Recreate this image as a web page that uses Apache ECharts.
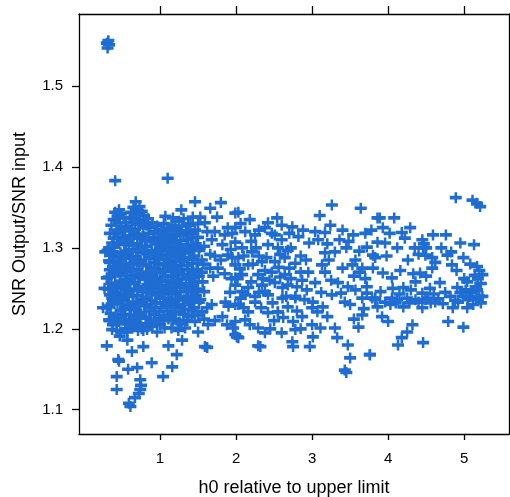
<!DOCTYPE html>
<html>
<head>
<meta charset="utf-8">
<script src="https://cdn.jsdelivr.net/npm/echarts@6/dist/echarts.min.js"></script>
<style>
html,body{margin:0;padding:0;background:#fff;}
#chart{width:510px;height:497px;}
</style>
</head>
<body>
<div id="chart"></div>
<script>
// ---- data (x: h0 relative to upper limit, y: SNR Output/SNR input) ----
const xTicks = [1, 2, 3, 4, 5];
const yTicks = [1.1, 1.2, 1.3, 1.4, 1.5];

const outliers = [
  [0.30,1.553],[0.33,1.551],[0.31,1.547],[0.32,1.556],
  [0.41,1.383],[1.10,1.386]
];

const blob = [
  [0.25,1.226],[0.27,1.250],[0.28,1.295],
  [0.31,1.297],[0.33,1.284],[0.30,1.263],[0.32,1.249],[0.30,1.226],[0.33,1.211],[0.34,1.273],
  [0.36,1.328],[0.37,1.306],[0.35,1.291],[0.38,1.277],[0.36,1.256],[0.37,1.238],[0.35,1.219],[0.38,1.205],
  [0.41,1.344],[0.42,1.318],[0.40,1.301],[0.43,1.283],[0.41,1.266],[0.42,1.245],[0.40,1.231],[0.43,1.207],
  [0.46,1.347],[0.47,1.331],[0.45,1.313],[0.48,1.294],[0.46,1.278],[0.47,1.259],[0.45,1.241],[0.48,1.223],[0.46,1.209],[0.47,1.191],
  [0.52,1.337],[0.51,1.321],[0.53,1.304],[0.52,1.287],[0.50,1.270],[0.53,1.252],[0.51,1.235],[0.52,1.218],[0.54,1.200],
  [0.57,1.326],[0.58,1.309],[0.56,1.292],[0.59,1.275],[0.57,1.261],[0.58,1.244],[0.56,1.229],[0.59,1.211],[0.57,1.196],
  [0.62,1.344],[0.63,1.331],[0.61,1.315],[0.64,1.298],[0.62,1.281],[0.63,1.266],[0.61,1.249],[0.64,1.233],[0.62,1.217],[0.63,1.202],
  [0.68,1.357],[0.69,1.341],[0.67,1.323],[0.70,1.305],[0.68,1.289],[0.69,1.273],[0.67,1.257],[0.70,1.241],[0.68,1.224],[0.69,1.208],
  [0.73,1.351],[0.74,1.334],[0.72,1.317],[0.75,1.301],[0.73,1.285],[0.74,1.269],[0.72,1.252],[0.75,1.236],[0.73,1.220],[0.74,1.204],
  [0.79,1.340],[0.78,1.325],[0.80,1.309],[0.79,1.294],[0.77,1.279],[0.80,1.261],[0.78,1.246],[0.79,1.229],[0.81,1.214],[0.78,1.198],
  [0.84,1.336],[0.85,1.318],[0.83,1.302],[0.86,1.287],[0.84,1.270],[0.85,1.254],[0.83,1.239],[0.86,1.222],[0.84,1.206],
  [0.90,1.331],[0.91,1.313],[0.89,1.297],[0.92,1.282],[0.90,1.266],[0.91,1.250],[0.89,1.235],[0.92,1.218],[0.90,1.203],
  [0.96,1.327],[0.97,1.309],[0.95,1.294],[0.98,1.279],[0.96,1.262],[0.97,1.245],[0.95,1.231],[0.98,1.213],
  [1.02,1.322],[1.03,1.305],[1.01,1.291],[1.04,1.273],[1.02,1.258],[1.03,1.243],[1.01,1.226],[1.04,1.210],
  [1.07,1.339],[1.08,1.317],[1.06,1.302],[1.09,1.286],[1.07,1.271],[1.08,1.253],[1.06,1.238],[1.09,1.222],
  [1.13,1.312],[1.14,1.296],[1.12,1.279],[1.15,1.265],[1.13,1.248],[1.14,1.232],[1.12,1.216],[1.15,1.201],
  [1.17,1.337],[1.18,1.321],[1.16,1.306],[1.19,1.289],[1.17,1.274],[1.18,1.257],[1.16,1.243],[1.19,1.226],[1.17,1.210],
  [1.22,1.316],[1.23,1.300],[1.21,1.284],[1.24,1.268],[1.22,1.252],[1.23,1.236],[1.21,1.221],[1.24,1.198],
  [1.28,1.347],[1.29,1.327],[1.27,1.309],[1.30,1.294],[1.28,1.278],[1.29,1.262],[1.27,1.246],[1.30,1.230],[1.28,1.206],
  [1.34,1.321],[1.35,1.304],[1.33,1.288],[1.36,1.273],[1.34,1.256],[1.35,1.240],[1.33,1.224],[1.36,1.210],
  [1.40,1.330],[1.41,1.313],[1.39,1.298],[1.42,1.281],[1.40,1.266],[1.41,1.250],[1.39,1.234],[1.42,1.217],
  [1.46,1.357],[1.46,1.322],[1.47,1.305],[1.45,1.290],[1.48,1.273],[1.46,1.258],[1.47,1.241],[1.45,1.226]
];

const blob2 = [
  [0.34,1.318],[0.33,1.300],[0.34,1.282],[0.33,1.264],[0.34,1.242],[0.33,1.228],[0.34,1.210],
  [0.39,1.335],[0.39,1.312],[0.38,1.295],[0.39,1.270],[0.39,1.252],[0.38,1.234],[0.39,1.214],
  [0.44,1.339],[0.44,1.322],[0.43,1.305],[0.44,1.288],[0.44,1.270],[0.43,1.250],[0.44,1.232],[0.44,1.215],[0.43,1.198],
  [0.49,1.342],[0.49,1.326],[0.50,1.309],[0.49,1.290],[0.48,1.274],[0.49,1.256],[0.50,1.238],[0.49,1.214],[0.49,1.196],
  [0.55,1.331],[0.54,1.313],[0.55,1.296],[0.55,1.279],[0.54,1.266],[0.55,1.248],[0.54,1.226],[0.55,1.206],
  [0.60,1.337],[0.60,1.322],[0.59,1.305],[0.60,1.288],[0.61,1.273],[0.60,1.257],[0.59,1.240],[0.60,1.224],[0.61,1.208],
  [0.65,1.350],[0.65,1.336],[0.66,1.319],[0.65,1.303],[0.64,1.288],[0.65,1.273],[0.66,1.256],[0.65,1.241],[0.66,1.225],[0.65,1.210],
  [0.71,1.346],[0.71,1.329],[0.70,1.312],[0.71,1.296],[0.72,1.280],[0.71,1.263],[0.70,1.247],[0.71,1.231],[0.72,1.214],[0.71,1.198],
  [0.76,1.345],[0.76,1.330],[0.77,1.314],[0.76,1.297],[0.75,1.283],[0.76,1.266],[0.77,1.250],[0.76,1.233],[0.75,1.218],[0.76,1.200],
  [0.82,1.328],[0.82,1.311],[0.81,1.295],[0.82,1.278],[0.83,1.262],[0.82,1.246],[0.81,1.230],[0.82,1.213],[0.83,1.199],
  [0.87,1.325],[0.88,1.308],[0.87,1.291],[0.88,1.275],[0.87,1.258],[0.88,1.243],[0.87,1.226],[0.88,1.210],
  [0.93,1.320],[0.94,1.305],[0.93,1.290],[0.94,1.274],[0.93,1.257],[0.94,1.242],[0.93,1.226],[0.94,1.209],
  [0.99,1.318],[1.00,1.301],[0.99,1.286],[1.00,1.270],[0.99,1.253],[1.00,1.238],[0.99,1.221],[1.00,1.205],
  [1.05,1.330],[1.05,1.313],[1.04,1.297],[1.05,1.281],[1.06,1.265],[1.05,1.249],[1.04,1.232],[1.05,1.216],[1.06,1.201],
  [1.10,1.324],[1.11,1.308],[1.10,1.292],[1.11,1.276],[1.10,1.260],[1.11,1.244],[1.10,1.228],[1.11,1.212],
  [1.15,1.328],[1.15,1.314],[1.14,1.298],[1.15,1.282],[1.16,1.266],[1.15,1.250],[1.14,1.234],[1.15,1.218],
  [1.20,1.324],[1.20,1.308],[1.21,1.292],[1.20,1.276],[1.19,1.260],[1.20,1.244],[1.21,1.228],[1.20,1.212],
  [1.25,1.333],[1.26,1.318],[1.25,1.302],[1.26,1.286],[1.25,1.270],[1.26,1.254],[1.25,1.238],[1.26,1.222],[1.25,1.208],
  [1.31,1.336],[1.31,1.315],[1.32,1.298],[1.31,1.283],[1.32,1.267],[1.31,1.251],[1.32,1.236],[1.31,1.218],
  [1.37,1.328],[1.37,1.310],[1.38,1.294],[1.37,1.278],[1.38,1.262],[1.37,1.246],[1.38,1.230],[1.37,1.215],
  [1.43,1.338],[1.43,1.318],[1.44,1.302],[1.43,1.286],[1.44,1.270],[1.43,1.254],[1.44,1.238],[1.43,1.222],
  [1.50,1.330],[1.50,1.313],[1.51,1.297],[1.50,1.281],[1.51,1.265],[1.50,1.249],[1.51,1.233],[1.50,1.217]
];

const lowLeft = [
  [0.30,1.179],[0.45,1.162],[0.46,1.160],[0.43,1.141],[0.43,1.125],[0.61,1.104],[0.59,1.108],
  [0.70,1.152],[0.74,1.125],[0.75,1.130],[0.72,1.120],[0.89,1.158],[1.04,1.141],[1.16,1.153],
  [1.22,1.168],[1.11,1.179],[0.63,1.172],[0.78,1.178],[0.57,1.186],[0.37,1.199],[0.96,1.196],
  [0.74,1.137],[0.67,1.115],[0.58,1.150],[1.29,1.186],[1.33,1.201]
];

const midLeft = [
  [1.66,1.349],[1.80,1.356],[1.99,1.343],[1.59,1.331],[1.72,1.320],[1.89,1.325],[1.99,1.307],
  [1.82,1.304],[1.68,1.310],[1.89,1.291],[1.99,1.279],[1.76,1.275],[1.55,1.270],[1.42,1.263],
  [1.99,1.263],[1.86,1.233],[1.99,1.230],[1.68,1.230],[1.55,1.221],[1.46,1.209],[1.82,1.215],
  [1.96,1.201],[1.99,1.193],[1.63,1.205],[1.59,1.178],[1.62,1.177],[1.42,1.246],[1.58,1.246],
  [1.55,1.285],[1.52,1.300],[1.56,1.258],[1.72,1.290],[1.92,1.245],[1.70,1.265],
  [1.53,1.338],[1.62,1.320],[1.75,1.338],[1.85,1.316],[1.95,1.318],[1.58,1.302],[1.66,1.292],
  [1.80,1.285],[1.93,1.298],[1.57,1.280],[1.66,1.275],[1.85,1.268],[1.95,1.288],[1.94,1.262],
  [1.53,1.236],[1.62,1.226],[1.90,1.228],[1.58,1.212],[1.72,1.210],[1.88,1.205],[1.50,1.196]
];

const midBand = [
  [2.03,1.344],[1.99,1.325],[2.12,1.320],[2.25,1.316],[2.38,1.325],[2.42,1.331],[2.54,1.337],
  [2.51,1.316],[2.74,1.326],[2.82,1.314],[3.04,1.320],[3.08,1.310],[3.17,1.319],[3.24,1.328],
  [2.08,1.300],[2.21,1.295],[2.03,1.288],[2.42,1.304],[2.55,1.300],[2.68,1.297],[2.64,1.288],
  [2.34,1.283],[2.51,1.283],[2.16,1.279],[2.78,1.281],[2.08,1.267],[2.29,1.267],[2.47,1.270],
  [2.64,1.267],[2.95,1.270],[3.13,1.279],[3.17,1.270],[1.99,1.254],[2.16,1.251],[2.34,1.254],
  [2.51,1.257],[2.68,1.254],[2.87,1.260],[2.12,1.242],[2.25,1.240],[2.42,1.242],[2.61,1.238],
  [2.78,1.240],[2.03,1.230],[2.16,1.221],[2.42,1.220],[2.55,1.221],[2.68,1.227],[1.99,1.209],
  [2.12,1.211],[2.29,1.201],[2.38,1.195],[2.03,1.189],[2.01,1.190],[2.32,1.178],[2.29,1.179],
  [2.75,1.209],[2.78,1.199],[2.74,1.184],[2.75,1.178],[2.97,1.178],[3.01,1.190],[3.11,1.201],
  [2.87,1.215],[2.25,1.233],[2.08,1.246],[2.38,1.246],[2.61,1.251],[2.78,1.238],[2.55,1.221],
  [2.30,1.290],[2.20,1.308],[2.60,1.310],[2.35,1.262],[2.70,1.275],
  [2.06,1.330],[2.18,1.335],[2.30,1.322],[2.47,1.318],[2.60,1.328],[2.70,1.318],[2.88,1.322],[2.96,1.306],
  [2.10,1.290],[2.26,1.300],[2.40,1.288],[2.58,1.292],[2.72,1.300],[2.85,1.290],[2.92,1.285],
  [2.05,1.274],[2.22,1.280],[2.38,1.272],[2.56,1.276],[2.72,1.262],[2.85,1.270],
  [2.02,1.262],[2.20,1.258],[2.44,1.260],[2.58,1.264],[2.80,1.252],
  [2.06,1.238],[2.30,1.245],[2.48,1.232],[2.66,1.240],[2.90,1.236],
  [2.10,1.226],[2.33,1.226],[2.50,1.210],[2.62,1.214],[2.80,1.222],
  [2.18,1.205],[2.45,1.200],[2.60,1.195],[2.85,1.200]
];

const midRight = [
  [3.26,1.353],[3.64,1.349],[3.54,1.316],[3.86,1.337],[3.72,1.301],[3.30,1.295],[3.17,1.294],
  [3.57,1.285],[3.53,1.279],[3.66,1.275],[3.63,1.270],[3.83,1.288],[3.34,1.257],[3.47,1.252],
  [3.57,1.248],[3.72,1.252],[3.72,1.244],[3.04,1.257],[2.93,1.248],[3.01,1.233],[3.14,1.227],
  [3.26,1.242],[3.43,1.233],[3.79,1.238],[3.83,1.238],[3.66,1.217],[3.61,1.202],[3.30,1.201],
  [3.33,1.189],[3.47,1.180],[3.50,1.164],[3.43,1.149],[3.45,1.146],[3.76,1.168],[3.00,1.226],
  [3.07,1.221],[3.00,1.205],[3.36,1.310],[3.45,1.300],[3.20,1.305],
  [3.10,1.340],[3.40,1.322],[3.48,1.308],[3.62,1.296],[3.70,1.318],[3.78,1.322],
  [3.22,1.285],[3.40,1.275],[3.70,1.262],[3.25,1.260],[3.55,1.265],
  [3.12,1.245],[3.38,1.244],[3.50,1.230],[3.66,1.238],[3.55,1.212],[3.20,1.215],[3.68,1.225]
];

const rightSide = [
  [4.89,1.362],[5.11,1.359],[5.17,1.355],[5.21,1.351],[3.89,1.337],[4.08,1.337],[3.93,1.325],
  [3.96,1.306],[3.86,1.307],[4.18,1.319],[4.29,1.325],[4.59,1.316],[4.76,1.316],[4.95,1.306],
  [5.13,1.304],[4.46,1.300],[4.49,1.291],[4.58,1.288],[4.78,1.291],[4.99,1.288],[4.84,1.279],
  [5.17,1.277],[5.24,1.267],[4.58,1.275],[4.42,1.269],[3.80,1.291],[3.80,1.275],[3.93,1.269],
  [4.05,1.263],[4.16,1.272],[4.68,1.257],[4.36,1.258],[4.20,1.251],[4.91,1.251],[5.04,1.258],
  [5.17,1.248],[5.24,1.240],[5.08,1.240],[4.92,1.233],[4.82,1.240],[4.62,1.233],[4.49,1.236],
  [4.36,1.236],[4.25,1.238],[4.12,1.236],[3.96,1.233],[3.83,1.236],[3.86,1.227],[4.03,1.230],
  [4.20,1.227],[4.45,1.226],[5.04,1.226],[3.92,1.215],[4.00,1.209],[4.79,1.209],[4.99,1.202],
  [4.32,1.205],[4.25,1.196],[4.18,1.189],[4.13,1.180],[4.46,1.183],[3.76,1.168],
  [5.10,1.245],[5.15,1.252],[5.20,1.240],[5.05,1.236],[5.22,1.256],[5.12,1.230],[5.18,1.262],
  [5.00,1.262],[4.95,1.245],[4.05,1.238],[4.10,1.232],[4.28,1.232],[4.40,1.233],[4.52,1.238],
  [4.56,1.232],[4.66,1.237],[4.72,1.231],[4.88,1.235],[4.22,1.312],[4.35,1.300],[4.40,1.292],
  [3.98,1.290],[4.02,1.318],[4.12,1.300],[4.26,1.285],[4.33,1.268],[4.50,1.265],[4.62,1.282],
  [4.70,1.300],[4.83,1.295],[4.90,1.272],[5.08,1.280],[5.14,1.266],[5.20,1.272],
  [4.06,1.250],[4.30,1.248],[4.55,1.250],[4.75,1.245],[4.98,1.240],[5.22,1.232],
  [3.90,1.246],[4.15,1.243],[4.45,1.244],[4.60,1.243],[4.85,1.226],[5.02,1.248],[5.18,1.236],
  [4.45,1.310],[4.47,1.305],[4.50,1.300]
];

// ---- chart ----
const points = [].concat(outliers, blob, blob2, lowLeft, midLeft, midBand, midRight, rightSide);
const blue = '#1f6dd2';
const plusPath = 'path://M0,8 H24 V16 H0 Z M9.5,0 H14.5 V24 H9.5 Z';
const font = 'Liberation Sans, Arial, Helvetica, sans-serif';
const xMin = -0.066, xMax = 5.59, yMin = 1.070, yMax = 1.589;

const axisLine = { show: true, onZero: false, lineStyle: { color: '#000', width: 1.3 } };

const chart = echarts.init(document.getElementById('chart'), null, { renderer: 'canvas' });
chart.setOption({
  backgroundColor: '#fff',
  animation: false,
  grid: { left: 79, top: 14, right: 1, bottom: 63, containLabel: false, outerBoundsMode: 'none' },
  xAxis: [
    {
      type: 'value', position: 'bottom', min: xMin, max: xMax,
      name: 'h0 relative to upper limit', nameLocation: 'middle', nameGap: 45,
      nameTextStyle: { fontFamily: font, fontSize: 18, color: '#000' },
      axisLine: axisLine,
      axisTick: { show: true, inside: false, length: 6, customValues: xTicks, lineStyle: { color: '#000', width: 1.3 } },
      axisLabel: { show: true, margin: 17, customValues: xTicks, fontFamily: font, fontSize: 15, color: '#000' },
      splitLine: { show: false }
    },
    {
      type: 'value', position: 'top', min: xMin, max: xMax,
      axisLine: axisLine,
      axisTick: { show: true, inside: false, length: 8, customValues: xTicks, lineStyle: { color: '#000', width: 1.3 } },
      axisLabel: { show: false },
      splitLine: { show: false }
    }
  ],
  yAxis: [
    {
      type: 'value', position: 'left', min: yMin, max: yMax,
      name: 'SNR Output/SNR input', nameLocation: 'middle', nameGap: 50, nameRotate: 90,
      nameTextStyle: { fontFamily: font, fontSize: 18, color: '#000' },
      axisLine: axisLine,
      axisTick: { show: true, inside: false, length: 7, customValues: yTicks, lineStyle: { color: '#000', width: 1.3 } },
      axisLabel: { show: true, margin: 16, customValues: yTicks, fontFamily: font, fontSize: 15, color: '#000',
        formatter: v => v.toFixed(1) },
      splitLine: { show: false }
    },
    {
      type: 'value', position: 'right', min: yMin, max: yMax,
      axisLine: axisLine,
      axisTick: { show: true, inside: false, length: 7, customValues: yTicks, lineStyle: { color: '#000', width: 1.3 } },
      axisLabel: { show: false },
      splitLine: { show: false }
    }
  ],
  series: [{
    type: 'scatter',
    xAxisIndex: 0, yAxisIndex: 0,
    data: points,
    symbol: plusPath,
    symbolSize: [12, 11],
    itemStyle: { color: blue, opacity: 1 },
    emphasis: { disabled: true },
    large: false
  }]
});
</script>
</body>
</html>
